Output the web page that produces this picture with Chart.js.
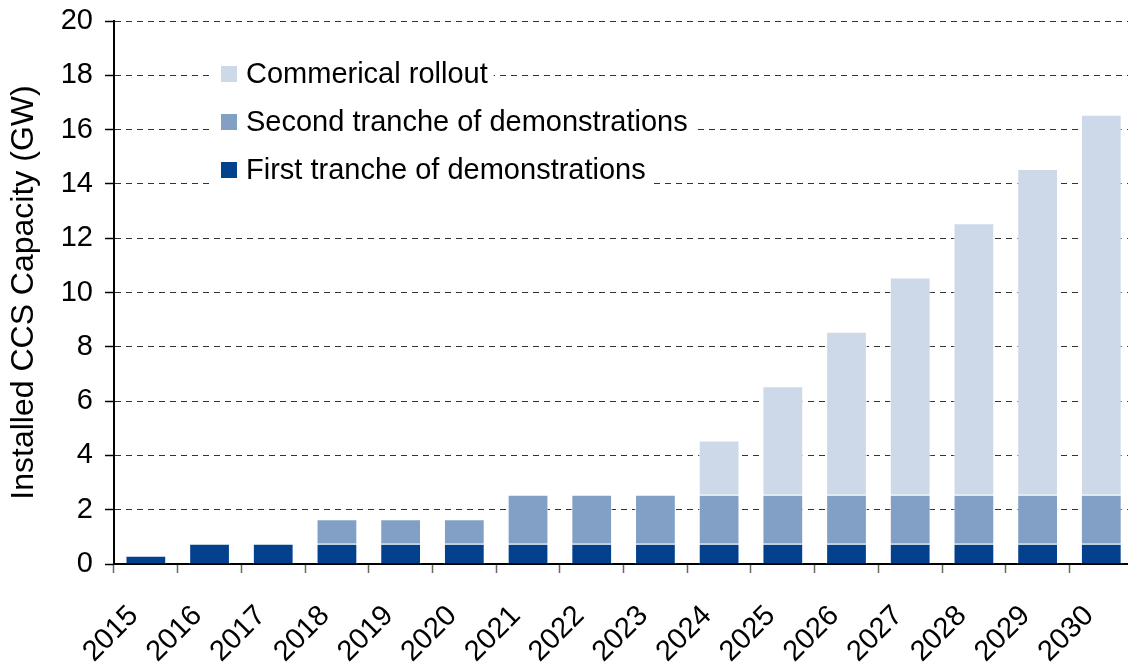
<!DOCTYPE html>
<html>
<head>
<meta charset="utf-8">
<script src="https://cdn.jsdelivr.net/npm/chart.js@4"></script>
<style>
  html, body { margin: 0; padding: 0; background: #fff; overflow: hidden; }
  #wrap { width: 1152px; height: 666px; }
</style>
</head>
<body>
<div id="wrap"><canvas id="ccsChart"></canvas></div>
<script>
// Data
const years = ['2015', '2016', '2017', '2018', '2019', '2020', '2021', '2022',
               '2023', '2024', '2025', '2026', '2027', '2028', '2029', '2030'];
const firstTranche = [0.3, 0.75, 0.75, 0.75, 0.75, 0.75, 0.75, 0.75,
                      0.75, 0.75, 0.75, 0.75, 0.75, 0.75, 0.75, 0.75];
const secondTranche = [0, 0, 0, 0.9, 0.9, 0.9, 1.8, 1.8,
                       1.8, 1.8, 1.8, 1.8, 1.8, 1.8, 1.8, 1.8];
const commercial = [0, 0, 0, 0, 0, 0, 0, 0,
                    0, 2, 4, 6, 8, 10, 12, 14];

const FONT = '"Liberation Sans", Arial, sans-serif';
const FONT_SIZE = 29;

// Legend drawn inside the plot, each entry on its own white patch
const insideLegend = {
    id: 'insideLegend',
    afterDatasetsDraw(chart) {
        const ctx = chart.ctx;
        const area = chart.chartArea;
        const items = chart.data.datasets.slice().reverse();
        ctx.save();
        ctx.font = FONT_SIZE + 'px ' + FONT;
        ctx.textBaseline = 'middle';
        items.forEach((ds, i) => {
            const boxX = area.left + 107;
            const cy = area.top + 53 + i * 48;
            const textX = boxX + 25;
            const w = ctx.measureText(ds.label).width;
            ctx.fillStyle = '#fff';
            ctx.fillRect(boxX - 8, cy - 17, textX + w + 6 - (boxX - 8), 34);
            ctx.fillStyle = ds.backgroundColor;
            ctx.fillRect(boxX, cy - 8, 16, 16);
            ctx.fillStyle = '#000';
            ctx.fillText(ds.label, textX, cy + 1);
        });
        ctx.restore();
    }
};

const ctx = document.getElementById('ccsChart').getContext('2d');
new Chart(ctx, {
    type: 'bar',
    data: {
        labels: years,
        datasets: [
            {
                label: 'First tranche of demonstrations',
                data: firstTranche,
                backgroundColor: '#03418c',
                borderColor: 'rgba(255,255,255,0.85)',
                borderWidth: 1
            },
            {
                label: 'Second tranche of demonstrations',
                data: secondTranche,
                backgroundColor: '#82a0c6',
                borderColor: 'rgba(255,255,255,0.85)',
                borderWidth: 1
            },
            {
                label: 'Commerical rollout',
                data: commercial,
                backgroundColor: '#cdd9e8',
                borderColor: 'rgba(255,255,255,0.85)',
                borderWidth: 1
            }
        ]
    },
    options: {
        responsive: true,
        maintainAspectRatio: false,
        animation: false,
        layout: { padding: { top: 21, right: 3, left: 0, bottom: 0 } },
        datasets: { bar: { categoryPercentage: 1, barPercentage: 0.64 } },
        plugins: {
            legend: { display: false },
            tooltip: { enabled: false }
        },
        scales: {
            x: {
                stacked: true,
                afterFit: (scale) => { scale.height = 102; },
                grid: {
                    offset: true,
                    drawOnChartArea: false,
                    drawTicks: true,
                    tickLength: 9,
                    tickColor: '#666',
                    tickWidth: 1.5
                },
                border: { color: '#000', width: 2 },
                ticks: {
                    color: '#000',
                    font: { family: FONT, size: FONT_SIZE },
                    minRotation: 45,
                    maxRotation: 45,
                    padding: 26,
                    labelOffset: -12,
                    autoSkip: false
                }
            },
            y: {
                stacked: true,
                min: 0,
                max: 20,
                afterFit: (scale) => { scale.width = 114; },
                grid: {
                    color: '#333',
                    lineWidth: 1,
                    drawTicks: true,
                    tickLength: 9,
                    tickColor: '#000',
                    tickWidth: 1.5
                },
                border: { color: '#000', width: 2, dash: [6, 5] },
                ticks: {
                    stepSize: 2,
                    color: '#000',
                    font: { family: FONT, size: FONT_SIZE, lineHeight: 0.6 },
                    padding: 12
                },
                title: {
                    display: true,
                    text: 'Installed CCS Capacity (GW)',
                    color: '#000',
                    font: { family: FONT, size: 32 },
                    padding: { top: 5, bottom: 2 }
                }
            }
        }
    },
    plugins: [insideLegend]
});
</script>
</body>
</html>
